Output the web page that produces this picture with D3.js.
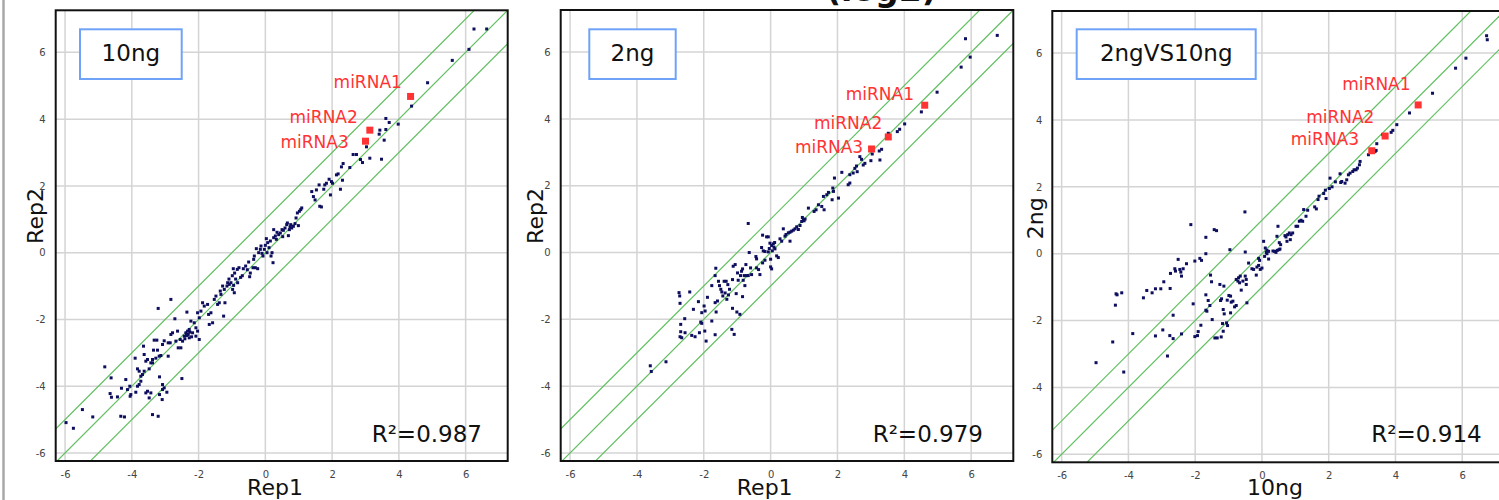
<!DOCTYPE html>
<html>
<head>
<meta charset="utf-8">
<script src="https://cdn.jsdelivr.net/npm/d3@7"></script>
<style>
  body { margin: 0; background: #fff; }
  svg { display: block; font-family: "DejaVu Sans", Verdana, sans-serif; }
</style>
</head>
<body>
<svg id="chart" width="1499" height="500"></svg>
<script>
// ---- Daten (log2-Werte) ----
const tickValues = [-6, -4, -2, 0, 2, 4, 6];
const panelNames = ["10ng", "2ng", "2ngVS10ng"];
const xTitles = ["Rep1", "Rep1", "10ng"];
const yTitles = ["Rep2", "Rep2", "2ng"];
const r2Values = ["0.987", "0.979", "0.914"];
const mirnaNames = ["miRNA1", "miRNA2", "miRNA3"];
const foldLines = [-1, 0, 1]; // y = x + k

const mirna10ng = [[4.35, 4.68], [3.13, 3.67], [3.00, 3.34]];
const mirna2ng = [[4.61, 4.41], [3.52, 3.46], [3.02, 3.10]];
const mirna2ngVs10ng = [[4.68, 4.45], [3.69, 3.52], [3.29, 3.08]];

const points10ng = [
  [-5.97,-5.09],[-5.75,-5.26],[-5.48,-4.70],[-5.17,-4.92],[-4.81,-3.42],[-4.62,-3.75],[-4.65,-4.22],[-4.61,-4.33],
  [-4.43,-4.32],[-4.33,-4.90],[-4.22,-4.92],[-4.31,-4.06],[-4.18,-3.80],[-4.13,-4.10],[-4.06,-4.00],[-4.03,-4.25],
  [-4.05,-4.30],[-3.88,-4.18],[-3.83,-4.00],[-3.78,-3.95],[-3.73,-3.85],[-3.90,-3.16],[-3.83,-3.48],[-3.78,-3.55],
  [-3.73,-3.70],[-3.68,-3.65],[-3.63,-3.55],[-3.65,-2.80],[-3.63,-3.05],[-3.58,-3.25],[-3.58,-4.20],[-3.53,-4.15],
  [-3.48,-4.35],[-3.43,-4.20],[-3.38,-4.85],[-3.21,-4.90],[-3.53,-3.20],[-3.43,-3.30],[-3.48,-3.48],[-3.38,-3.30],
  [-3.35,-2.92],[-3.33,-2.62],[-3.25,-2.62],[-3.21,-1.67],[-3.23,-2.92],[-3.38,-3.20],[-3.28,-3.16],[-3.18,-3.10],
  [-3.13,-3.08],[-3.17,-3.72],[-3.17,-4.25],[-3.08,-4.10],[-3.08,-3.95],[-3.03,-4.05],[-3.09,-4.40],[-2.95,-4.18],
  [-3.03,-2.64],[-3.08,-2.75],[-2.91,-2.70],[-2.85,-2.70],[-2.91,-3.10],[-2.83,-1.40],[-2.78,-2.40],[-2.83,-2.45],
  [-2.71,-1.98],[-2.68,-2.65],[-2.63,-2.35],[-2.61,-2.85],[-2.53,-2.85],[-2.55,-2.60],[-2.48,-2.65],[-2.50,-3.77],
  [-2.43,-2.50],[-2.38,-2.40],[-2.33,-2.35],[-2.35,-1.78],[-2.31,-2.45],[-2.28,-2.30],[-2.28,-2.55],[-2.23,-2.05],
  [-2.18,-2.40],[-2.13,-2.10],[-2.08,-2.50],[-2.08,-2.25],[-2.03,-2.35],[-2.03,-1.80],[-1.98,-1.95],[-1.93,-1.75],
  [-1.98,-2.60],[-1.88,-1.50],[-1.83,-1.60],[-1.73,-1.55],[-1.70,-1.85],[-1.63,-1.80],[-1.58,-2.10],[-1.68,-2.15],
  [-1.53,-1.40],[-1.48,-1.30],[-1.43,-1.55],[-1.38,-1.50],[-1.33,-1.25],[-1.35,-1.15],[-1.28,-1.00],[-1.23,-1.10],
  [-1.25,-1.90],[-1.21,-1.50],[-1.15,-1.00],[-1.13,-0.90],[-1.08,-0.95],[-1.03,-0.90],[-0.98,-1.10],[-0.93,-1.20],
  [-0.95,-0.98],[-0.83,-0.90],[-2.36,-2.48],[-2.26,-2.38],[-2.21,-2.52],[-2.41,-2.58],
  [-1.09,-0.79],[-0.96,-0.48],[-0.99,-0.69],[-0.92,-0.61],[-0.89,-0.79],[-0.84,-0.50],[-0.79,-0.45],[-0.74,-0.74],
  [-0.69,-0.69],[-0.66,-0.48],[-0.59,-0.40],[-0.54,-0.51],[-0.47,-0.72],[-0.45,-0.61],[-0.50,-0.28],[-0.37,-0.45],
  [-0.35,-0.20],[-0.33,-0.10],[-0.30,-0.45],[-0.27,0.12],[-0.23,-0.48],[-0.20,0.00],[-0.15,0.10],[-0.13,0.20],
  [-0.10,-0.02],[-0.07,-0.10],[-0.03,0.10],[0.00,0.22],[0.03,0.42],[0.05,0.00],[0.07,0.30],[0.11,0.15],
  [0.15,0.35],[0.17,-0.10],[0.20,0.00],[0.23,-0.30],[0.25,0.69],[0.25,0.45],[0.30,0.50],[0.33,0.40],
  [0.35,0.61],[0.40,0.54],[0.45,0.59],[0.50,0.69],[0.52,0.48],[0.54,0.67],[0.59,0.74],[0.64,0.84],
  [0.66,0.89],[0.69,0.51],[0.72,0.69],[0.74,0.77],[0.76,0.84],[0.79,0.74],[0.84,0.79],[0.89,0.87],
  [0.92,1.04],[0.96,1.19],[0.99,0.81],[1.02,1.24],[1.06,1.29],[1.09,1.34],[1.39,1.83],[1.44,1.68],
  [1.49,1.58],[1.53,1.88],[1.61,2.03],[1.63,1.39],[1.68,1.37],[1.75,1.90],[1.78,2.03],[1.83,2.08],
  [1.91,2.20],[1.95,1.73],[1.98,2.13],[2.01,2.08],[2.13,2.33],[2.18,2.36],
  [6.25,6.70],[6.63,6.70],[6.10,6.09],[5.60,5.76],[4.86,5.09],[4.38,4.39],[3.61,4.02],[3.71,3.90],
  [3.98,3.85],[3.43,3.67],[3.41,3.55],[3.61,3.69],[3.56,3.37],[3.06,3.39],[3.03,3.17],[3.13,2.83],
  [3.48,2.80],[2.63,2.94],[2.73,2.94],[2.85,2.79],[2.91,2.70],[2.53,2.55],[2.33,2.67],[2.28,2.57],
  [2.31,2.17],[2.25,1.90]
];

const points2ng = [
  [-0.67,0.87],[-3.60,-3.39],[-3.57,-3.56],[-3.13,-3.27],[-2.74,-1.20],[-2.72,-1.30],[-2.42,-1.18],[-2.71,-1.52],
  [-2.57,-1.98],[-2.69,-2.15],[-2.69,-2.37],[-2.71,-2.52],[-2.66,-2.55],[-2.56,-2.40],[-2.36,-2.48],[-2.26,-2.52],
  [-2.31,-1.70],[-2.16,-1.47],[-2.13,-2.40],[-2.06,-1.80],[-2.09,-2.08],[-2.06,-2.12],[-1.99,-1.60],[-1.96,-1.75],
  [-1.93,-2.65],[-1.97,-2.35],[-1.89,-1.34],[-1.76,-0.99],[-1.76,-2.05],[-1.66,-0.69],[-1.64,-0.47],[-1.63,-1.78],
  [-1.66,-2.46],[-1.66,-1.50],[-1.59,-1.45],[-1.56,-0.86],[-1.53,-0.99],[-1.49,-1.10],[-1.46,-1.18],[-1.43,-1.30],
  [-1.39,-0.86],[-1.33,-0.86],[-1.36,-1.21],[-1.31,-1.40],[-1.28,-0.96],[-1.26,-1.27],[-1.23,-1.10],[-1.16,-2.30],
  [-1.09,-2.45],[-1.14,-1.67],[-1.14,-0.81],[-1.12,-0.41],[-1.06,-0.36],[-1.03,-1.23],[-1.01,-1.78],[-0.99,-0.61],
  [-0.97,-0.83],[-0.92,-1.85],[-0.90,-0.69],[-0.87,-0.56],[-0.84,-0.49],[-0.84,-1.32],[-0.82,-0.83],[-0.79,-0.69],
  [-0.72,-0.69],[-0.67,-0.69],[-0.77,-0.99],[-0.74,-0.36],[-0.64,0.00],[-0.60,-0.46],[-0.57,-0.66],[-0.44,-0.12],
  [-0.42,-0.19],[-0.42,-0.46],[-0.36,-0.51],[-0.32,-0.66],[-0.27,0.15],[-0.24,-0.31],[-0.22,0.05],[-0.17,0.03],
  [-0.17,-0.23],[-0.24,0.52],[-0.12,0.47],[-0.07,0.47],[-0.07,0.02],[-0.04,0.12],[0.00,-0.43],[0.03,-0.49],
  [0.00,-0.20],[0.03,0.21],[0.08,0.26],[0.10,0.16],[0.13,0.11],[0.18,-0.10],[0.23,-0.15],[0.28,0.41],
  [0.33,0.34],[0.38,0.71],[0.43,0.49],[0.46,0.54],[0.53,0.59],[0.58,0.61],[0.63,0.64],[0.68,0.67],
  [0.73,0.71],[0.78,0.77],[0.83,0.69],[0.88,0.81],[0.58,0.34],[0.05,0.05],[0.12,0.30],[-0.02,0.28],
  [1.03,1.00],[0.98,0.98],[0.93,0.93],[0.95,1.05],[1.00,0.95],
  [6.78,6.50],[5.83,6.40],[5.97,5.85],[5.70,5.55],[4.98,4.80],[4.51,4.21],[4.01,3.85],[3.86,3.69],
  [3.79,3.62],[3.52,3.57],[3.32,3.09],[3.25,3.04],[3.27,2.77],[3.04,2.95],[3.00,2.75],[2.82,2.67],
  [2.67,2.87],[2.72,2.79],[2.77,2.62],[2.52,2.52],[2.59,2.42],[2.57,2.59],[2.47,2.38],[2.37,2.33],
  [2.32,2.03],[2.37,2.08],[2.13,2.40],[2.03,1.63],[1.91,2.23],[1.86,1.93],[1.88,1.83],[1.84,1.58],
  [1.73,1.80],[1.68,1.73],[1.58,1.68],[1.53,1.38],[1.60,1.28],[1.43,1.43],[1.36,1.28],[1.30,1.23],
  [1.13,1.33]
];

const points2ngVs10ng = [
  [-4.97,-3.26],[-4.14,-3.54],[-4.47,-2.64],[-4.39,-1.54],[-4.37,-1.20],[-4.34,-1.23],[-4.20,-1.17],[-3.87,-2.39],
  [-3.55,-1.32],[-3.45,-1.10],[-3.29,-1.17],[-3.19,-1.05],[-3.03,-1.05],[-2.94,-0.84],[-2.75,-1.04],[-2.74,-0.59],
  [-2.61,-0.45],[-2.59,-0.52],[-2.51,-0.17],[-2.46,-0.47],[-2.43,-0.55],[-2.41,-0.67],[-2.36,-0.45],[-2.26,-0.30],
  [-2.13,0.87],[-2.01,-0.22],[-1.86,-0.14],[-1.81,-0.20],[-1.68,0.49],[-1.68,0.00],[-1.43,0.72],[-1.36,0.69],
  [-2.66,-1.84],[-3.19,-2.46],[-2.97,-2.28],[-2.83,-3.06],[-2.76,-2.45],[-2.66,-2.54],[-2.41,-2.40],[-2.06,-1.50],
  [-2.01,-2.48],[-1.93,-2.45],[-1.91,-2.33],[-1.83,-2.14],[-1.68,-1.23],[-1.68,-1.69],[-1.65,-1.72],[-1.61,-1.40],
  [-1.56,-1.55],[-1.54,-0.64],[-1.51,-0.84],[-1.49,-1.97],[-1.41,-2.52],[-1.34,-2.52],[-1.26,-0.92],[-1.22,-2.49],
  [-1.24,-1.40],[-1.21,-1.35],[-1.18,-2.09],[-1.16,-1.67],[-1.14,-0.97],[-1.13,-1.80],[-1.16,-2.32],[-1.06,-2.07],
  [-1.03,-2.15],[-1.04,-1.39],[-0.99,-1.25],[-0.94,-1.27],[-0.96,0.12],[-0.94,-1.77],[-0.92,-1.45],[-0.87,-1.42],
  [-0.82,-1.59],[-0.77,-1.55],[-0.77,-0.77],[-0.72,-0.82],[-0.70,-0.72],[-0.67,-0.87],[-0.65,-0.67],[-0.62,-1.09],
  [-0.57,-0.82],[-0.51,1.25],[-0.50,0.05],[-0.50,-0.67],[-0.47,-0.77],[-0.47,-0.92],[-0.45,-1.47],[-0.40,-0.28],
  [-0.30,-0.45],[-0.25,-0.47],[-0.17,-0.64],[-0.15,-0.40],[-0.10,-0.35],[-0.10,-0.14],[-0.07,-0.20],[-0.05,-0.47],
  [0.00,-0.43],[0.05,0.37],[0.10,0.17],[0.08,-0.08],[0.13,0.04],[0.15,0.00],[0.20,0.07],[0.15,0.10],
  [0.20,-0.16],[0.33,0.08],[0.38,0.07],[0.42,0.04],[0.46,0.10],[0.51,0.12],[0.54,0.14],[0.45,0.52],
  [0.48,0.82],[0.52,0.33],[0.56,0.27],[0.69,0.54],[0.72,0.50],[0.77,0.57],[0.82,0.62],[0.85,0.42],
  [0.75,0.37],[0.87,0.57],[0.92,0.62],[1.02,0.82],[1.07,0.82],[1.12,0.97],[1.17,1.00],[1.22,0.97],
  [1.32,1.12],[1.37,1.30],[1.25,1.32],[1.58,1.40],[1.63,1.34],[1.68,1.62],[1.71,1.72],
  [1.85,1.80],[1.92,1.65],[1.90,1.90],[2.02,1.95],[2.10,2.00],[2.20,2.15],
  [6.73,6.52],[6.75,6.40],[6.11,5.85],[5.80,5.55],[5.11,4.80],[4.42,4.21],[4.04,3.86],[3.92,3.69],
  [3.87,3.63],[3.62,3.56],[3.44,3.29],[3.39,3.06],[3.42,3.09],[3.19,2.96],[2.94,2.76],[2.92,2.66],
  [2.86,2.56],[2.82,2.51],[2.76,2.51],[2.72,2.46],[2.64,2.41],[2.59,2.36],[2.54,2.21],[2.49,2.11],
  [2.34,2.39],[2.04,2.26],[2.36,2.13],[2.39,2.16]
];

// ---- Layout (Pixel) ----
const width = 1499, height = 500;
const xDomain = [-6.28, 7.26];
const yDomain = [-6.24, 7.26];

const layouts = [
  { left: 55.7, top: 10.3, w: 452, h: 450.7, box: [80, 29.3, 101.7, 49.7], xTitleX: 275, yTitle: [43.3, 216],
    r2Right: 482, labelOff: [[-8.7, -14.6], [-12, -13], [-16.7, 0.7]] },
  { left: 560.7, top: 10, w: 452.6, h: 451, box: [589.3, 29.3, 86.4, 49.7], xTitleX: 764.7, yTitle: [543.3, 216],
    r2Right: 983, labelOff: [[-10.7, -11], [-6, -14.3], [-8.4, -2.3]] },
  { left: 1052.3, top: 11, w: 452, h: 451.3, box: [1076.7, 29.3, 179, 49.7], xTitleX: 1275, yTitle: [1043.3, 218.3],
    r2Right: 1481.7, labelOff: [[-7.6, -21], [-10.7, -19.6], [-12.7, -12]] }
];

const panelPoints = [points10ng, points2ng, points2ngVs10ng];
const panelMirna = [mirna10ng, mirna2ng, mirna2ngVs10ng];

const svg = d3.select("#chart");

// linker grauer Rahmen der Seite
svg.append("line")
  .attr("x1", 3.5).attr("x2", 3.5).attr("y1", 0).attr("y2", height)
  .attr("stroke", "#a8a8a8").attr("stroke-width", 2.5);

// Titel ragt oben aus dem Bild heraus
svg.append("text")
  .attr("x", 826).attr("y", 0.5)
  .attr("font-size", 33).attr("font-weight", "bold")
  .attr("fill", "#111")
  .text("(log2)");

layouts.forEach((L, i) => {
  const x = d3.scaleLinear().domain(xDomain).range([0, L.w]);
  const y = d3.scaleLinear().domain(yDomain).range([L.h, 0]);

  const g = svg.append("g").attr("transform", `translate(${L.left}, ${L.top})`);

  const clipId = `clip${i}`;
  g.append("clipPath").attr("id", clipId)
    .append("rect").attr("width", L.w).attr("height", L.h);

  // Gitterlinien
  g.append("g").selectAll("line.vx")
    .data(tickValues).join("line")
    .attr("x1", d => x(d)).attr("x2", d => x(d))
    .attr("y1", 0).attr("y2", L.h)
    .attr("stroke", "#d4d4d4").attr("stroke-width", 1.5);
  g.append("g").selectAll("line.hy")
    .data(tickValues).join("line")
    .attr("y1", d => y(d)).attr("y2", d => y(d))
    .attr("x1", 0).attr("x2", L.w)
    .attr("stroke", "#d4d4d4").attr("stroke-width", 1.5);

  const inner = g.append("g").attr("clip-path", `url(#${clipId})`);

  // Diagonalen y = x, y = x +/- 1
  const line = d3.line().x(d => x(d[0])).y(d => y(d[1]));
  inner.selectAll("path.fold")
    .data(foldLines).join("path")
    .attr("d", k => line([[-8, -8 + k], [9, 9 + k]]))
    .attr("fill", "none")
    .attr("stroke", "#5fbf5f")
    .attr("stroke-width", 1.2);

  // Punkte
  inner.append("g").selectAll("rect")
    .data(panelPoints[i]).join("rect")
    .attr("x", d => x(d[0]) - 1.5)
    .attr("y", d => y(d[1]) - 1.5)
    .attr("width", 3).attr("height", 3)
    .attr("fill", "#0e0e5e");

  // miRNA-Markierungen
  inner.append("g").selectAll("rect")
    .data(panelMirna[i]).join("rect")
    .attr("x", d => x(d[0]) - 3.5)
    .attr("y", d => y(d[1]) - 3.5)
    .attr("width", 7).attr("height", 7)
    .attr("fill", "#ff3333");

  g.append("g").selectAll("text")
    .data(panelMirna[i]).join("text")
    .attr("x", (d, j) => x(d[0]) + L.labelOff[j][0])
    .attr("y", (d, j) => y(d[1]) + L.labelOff[j][1] + 6.2)
    .attr("text-anchor", "end")
    .attr("font-size", 17)
    .attr("fill", "#ff3333")
    .text((d, j) => mirnaNames[j]);

  // Achsen
  const fmt = d => String(d);
  const bottomAxis = d3.axisBottom(x).tickValues(tickValues).tickSize(0).tickPadding(10).tickFormat(fmt);
  const leftAxis = d3.axisLeft(y).tickValues(tickValues).tickSize(0).tickPadding(10).tickFormat(fmt);

  const xa = g.append("g").attr("transform", `translate(0, ${L.h})`).call(bottomAxis);
  const ya = g.append("g").call(leftAxis);
  [xa, ya].forEach(a => {
    a.select(".domain").remove();
    a.selectAll("text").attr("font-size", 10).attr("fill", "#444")
      .attr("font-family", '"DejaVu Sans", Verdana, sans-serif');
  });

  // Rahmen
  g.append("rect")
    .attr("width", L.w).attr("height", L.h)
    .attr("fill", "none").attr("stroke", "#111").attr("stroke-width", 2);

  // Beschriftungskasten
  svg.append("rect")
    .attr("x", L.box[0]).attr("y", L.box[1])
    .attr("width", L.box[2]).attr("height", L.box[3])
    .attr("fill", "#fff").attr("stroke", "#6fa3f7").attr("stroke-width", 2);
  svg.append("text")
    .attr("x", L.box[0] + L.box[2] / 2).attr("y", 60.7)
    .attr("text-anchor", "middle").attr("font-size", 23).attr("fill", "#111")
    .text(panelNames[i]);

  // R²
  svg.append("text")
    .attr("x", L.r2Right).attr("y", 441.7)
    .attr("text-anchor", "end").attr("font-size", 23).attr("fill", "#111")
    .text(`R²=${r2Values[i]}`);

  // Achsentitel
  svg.append("text")
    .attr("x", L.xTitleX).attr("y", 495)
    .attr("text-anchor", "middle").attr("font-size", 22).attr("fill", "#111")
    .text(xTitles[i]);
  svg.append("text")
    .attr("transform", `translate(${L.yTitle[0]}, ${L.yTitle[1]}) rotate(-90)`)
    .attr("text-anchor", "middle").attr("font-size", 22).attr("fill", "#111")
    .text(yTitles[i]);
});
</script>
</body>
</html>
